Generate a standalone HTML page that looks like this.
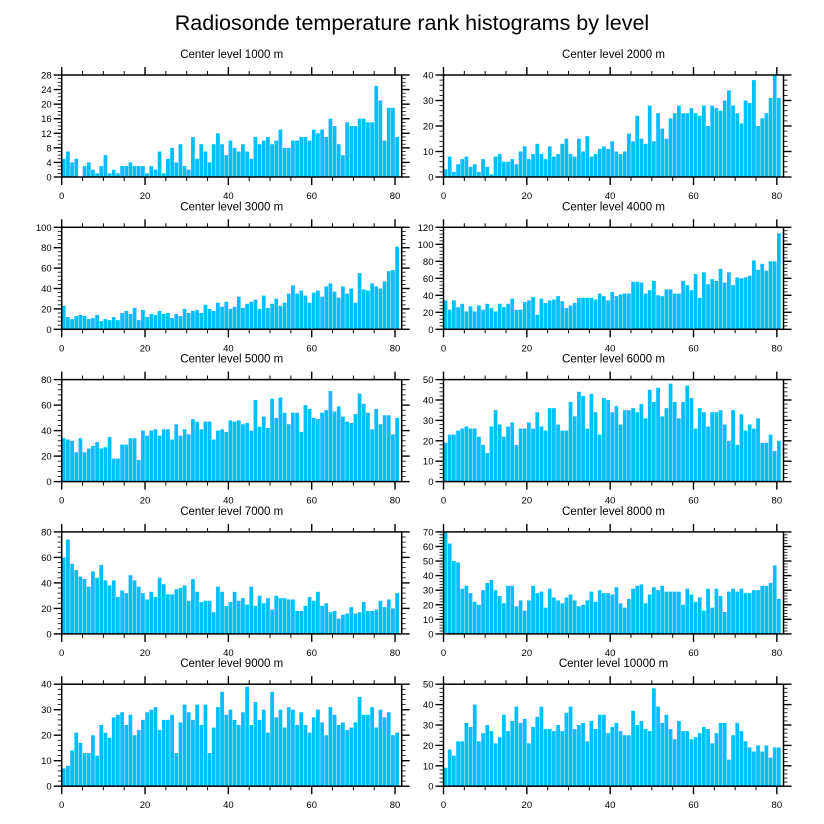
<!DOCTYPE html>
<html><head><meta charset="utf-8">
<style>
html,body{margin:0;padding:0;background:#fff;}
svg{display:block;font-family:"Liberation Sans",Arial,sans-serif;}
</style></head>
<body>
<svg id="chart" width="824" height="824" viewBox="0 0 824 824">
<text x="412" y="30" text-anchor="middle" font-size="21.5" fill="#000">Radiosonde temperature rank histograms by level</text>
</svg>
<script>
const levelTitles = ["Center level 1000 m","Center level 2000 m","Center level 3000 m","Center level 4000 m","Center level 5000 m","Center level 6000 m","Center level 7000 m","Center level 8000 m","Center level 9000 m","Center level 10000 m"];
const xTicks = [0,20,40,60,80];
const yMax = [28,40,100,120,80,50,80,70,40,50];
const yStep = [4,10,20,20,20,10,20,10,10,10];
const yMinor = [1,2,4,4,4,2,4,2,2,2];
const counts1000 = [5,7,4,5,0,3,4,2,1,3,6,1,2,1,3,3,4,3,3,3,1,3,2,7,1,5,8,4,9,3,2,11,5,9,7,4,9,12,9,6,10,8,7,9,7,5,11,9,10,11,9,10,13,8,8,10,10,11,11,10,13,12,13,11,16,14,9,6,15,14,14,16,16,15,15,25,21,10,19,19,11];
const counts2000 = [3,8,2,5,7,8,4,5,2,7,4,1,8,9,6,6,7,5,10,12,7,9,13,9,7,12,8,9,13,15,9,8,15,10,16,8,9,11,12,11,14,10,9,10,17,14,24,15,13,28,14,25,19,15,23,25,28,25,25,27,25,24,28,20,28,27,26,30,34,28,25,21,30,29,38,20,23,25,31,40,31];
const counts3000 = [23,12,10,13,14,13,10,11,14,8,10,9,12,9,16,18,15,21,9,19,12,15,14,18,15,16,11,15,13,20,16,18,19,16,24,20,18,26,22,27,20,22,32,21,25,27,29,20,33,21,25,30,23,26,35,43,35,38,33,26,36,38,32,42,45,37,31,42,35,40,26,55,39,38,45,42,40,47,57,58,81];
const counts4000 = [34,23,34,26,30,21,27,21,28,23,30,25,21,30,26,30,36,23,23,32,34,38,17,36,31,34,35,39,33,25,28,31,37,37,37,37,35,42,39,34,44,39,41,42,42,56,56,55,42,46,57,40,39,47,47,42,42,57,52,46,65,37,67,53,59,57,71,55,67,52,61,60,61,63,81,70,77,69,80,80,113];
const counts5000 = [34,33,32,23,34,23,26,28,31,26,27,35,18,18,29,29,34,34,17,40,36,40,41,36,41,41,33,45,36,41,37,49,47,41,47,47,33,40,41,39,48,47,48,45,46,40,64,43,51,42,65,50,66,54,45,54,54,39,60,57,50,49,54,56,71,55,59,51,47,46,53,69,61,54,41,57,45,52,52,37,50];
const counts6000 = [19,23,23,25,26,27,26,26,22,18,14,27,35,28,22,27,29,18,26,26,29,26,34,27,25,36,36,28,25,25,39,32,44,42,26,43,34,23,41,40,34,37,28,35,35,36,34,38,31,45,39,46,32,36,48,39,31,39,47,41,26,36,34,27,34,34,35,28,20,35,18,33,25,28,26,31,19,19,23,15,20];
const counts7000 = [60,74,55,50,45,43,37,49,44,54,42,38,42,29,34,32,46,42,37,32,27,33,29,44,39,31,31,35,36,38,26,43,33,25,26,26,17,37,33,22,25,33,26,28,23,37,22,30,24,28,19,30,28,28,27,27,18,18,22,29,26,33,22,24,17,18,12,15,16,21,16,17,25,18,18,19,26,21,27,20,32];
const counts8000 = [70,62,50,49,31,33,28,22,20,30,35,37,30,26,21,33,33,19,23,16,23,33,28,29,18,31,25,23,21,25,27,23,19,20,23,29,22,30,28,28,27,32,21,18,24,31,33,34,21,27,32,30,33,29,29,29,29,20,31,27,22,25,16,31,18,31,26,15,29,31,29,31,28,28,30,30,33,33,35,47,24];
const counts9000 = [7,8,14,21,17,13,13,20,12,24,21,19,27,28,29,24,28,20,22,26,29,30,31,22,26,26,28,13,25,32,29,26,32,24,32,13,23,31,37,28,30,26,24,29,39,24,33,26,30,21,37,27,30,23,31,30,24,29,24,21,27,30,25,20,31,28,24,25,22,23,25,35,28,28,31,23,30,27,29,20,21];
const counts10000 = [9,18,15,22,22,31,29,40,22,26,30,27,21,24,35,27,32,39,31,33,21,29,34,39,28,28,27,30,27,36,39,28,30,31,22,32,28,35,35,26,29,31,27,25,25,37,30,32,28,27,48,39,31,35,28,23,32,27,27,23,24,26,29,28,21,26,31,31,13,25,31,27,22,19,17,20,17,20,14,19,19];
const allCounts = [counts1000,counts2000,counts3000,counts4000,counts5000,counts6000,counts7000,counts8000,counts9000,counts10000];

const NS = "http://www.w3.org/2000/svg";
const svg = document.getElementById('chart');
function mk(tag, attrs, parent){const e=document.createElementNS(NS,tag);for(const k in attrs)e.setAttribute(k,attrs[k]);(parent||svg).appendChild(e);return e;}

const XMAX = 81.6, W = 340, H = 102;
const colX = [61.7, 443.5], rowY = [75, 227.3, 379.6, 531.9, 684.2];

for (let p = 0; p < 10; p++) {
  const x0 = colX[p % 2], y0 = rowY[Math.floor(p / 2)];
  const xs = v => x0 + v / XMAX * W;
  const ys = v => y0 + H - v / yMax[p] * H;
  const g = mk('g', {});
  
  
  const t = mk('text', {x: x0 + W / 2, y: y0 - 17, 'text-anchor': 'middle', 'font-size': 11.5, fill: '#000'}, g);
  t.textContent = levelTitles[p];
  
  
  const data = allCounts[p];
  data.forEach((v, i) => {
    const r = mk('rect', {x: xs(i) + 0.2, y: ys(v), width: Math.max(0, xs(i + 1) - xs(i) - 0.45), height: ys(0) - ys(v), fill: '#00bfff'}, g);
    
    
  });
  for (let v = 0; v <= XMAX; v += 5) {
    const major = v % 20 === 0, L = major ? 8 : 4;
    mk('line', {x1: xs(v), x2: xs(v), y1: y0 + H, y2: y0 + H + L, stroke: '#000', 'stroke-width': major ? 1.4 : 1}, g);
    mk('line', {x1: xs(v), x2: xs(v), y1: y0, y2: y0 - L, stroke: '#000', 'stroke-width': major ? 1.4 : 1}, g);
  }
  xTicks.forEach(v => {
    const tl = mk('text', {x: xs(v), y: y0 + H + 22, 'text-anchor': 'middle', 'font-size': 9.5, fill: '#000'}, g);
    tl.textContent = v;
    
    
  });
  for (let v = 0; v <= yMax[p] + 1e-9; v += yMinor[p]) {
    const major = Math.abs(v / yStep[p] - Math.round(v / yStep[p])) < 1e-6, L = major ? 8 : 4;
    mk('line', {x1: x0, x2: x0 - L, y1: ys(v), y2: ys(v), stroke: '#000', 'stroke-width': major ? 1.4 : 0.8}, g);
    mk('line', {x1: x0 + W, x2: x0 + W + L, y1: ys(v), y2: ys(v), stroke: '#000', 'stroke-width': major ? 1.4 : 0.8}, g);
    if (major) {
      const yl = mk('text', {x: x0 - 10, y: ys(v) + 3.5, 'text-anchor': 'end', 'font-size': 9.5, fill: '#000'}, g);
      yl.textContent = Math.round(v);
      
      
    }
  }
  const box = mk('rect', {x: x0, y: y0, width: W, height: H, fill: 'none', stroke: '#000', 'stroke-width': 1.5}, g);
  
  
}
</script>
</body></html>
